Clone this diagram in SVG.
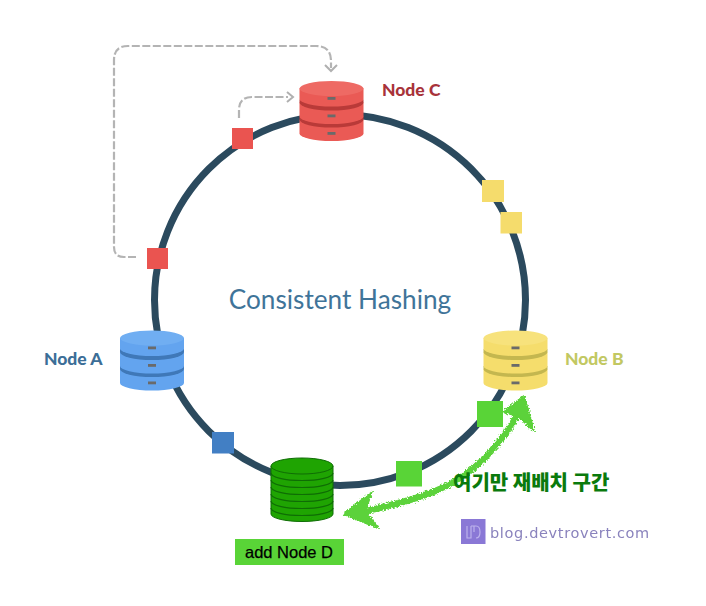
<svg xmlns="http://www.w3.org/2000/svg" width="706" height="606" viewBox="0 0 706 606">
<style>
.lbl{font-family:Lato,"Open Sans","Liberation Sans",sans-serif;font-weight:900;font-size:17.500px}
.dash{fill:none;stroke:#b4b4b4;stroke-width:2.200;stroke-dasharray:8 2.500}
.head{fill:none;stroke:#b0b0b0;stroke-width:2}
.sand{fill:none;stroke:#5cd23a;stroke-linejoin:round;stroke-linecap:round}
.disc{fill:var(--m)}.top{fill:var(--t)}.band{fill:var(--d)}.slot{fill:#6a6a6a}
</style>
<defs>
<filter id="rough" x="-10%" y="-10%" width="120%" height="120%">
<feTurbulence type="fractalNoise" baseFrequency="0.6" numOctaves="2" seed="4"/>
<feDisplacementMap in="SourceGraphic" scale="5" xChannelSelector="R" yChannelSelector="G"/>
</filter>
<filter id="soft"><feGaussianBlur stdDeviation="0.45"/></filter>
<g id="db">
<path class="disc" d="M-32 31V45A32 7.500 0 0 0 32 45V31Z"/>
<path class="band" d="M-32 28V31A32 8 0 0 0 32 31V28Z"/>
<path class="disc" d="M-32 14V28A32 7.500 0 0 0 32 28V14Z"/>
<path class="band" d="M-32 11V14A32 8 0 0 0 32 14V11Z"/>
<path class="disc" d="M-32 0V10.500A32 7.500 0 0 0 32 10.500V0Z"/>
<ellipse class="top" cx="0" cy="0" rx="32" ry="7.500"/>
<rect class="slot" x="-4" y="8.500" width="8" height="2.800"/>
<rect class="slot" x="-4" y="26" width="8" height="2.800"/>
<rect class="slot" x="-4" y="43.500" width="8" height="2.800"/>
</g>
</defs>
<rect width="706" height="606" fill="#fff"/>
<g id="ring"><circle cx="340" cy="300" r="185.500" fill="none" stroke="#2b4a5e" stroke-width="7"/></g>
<text x="340" y="309" text-anchor="middle" font-family="Lato,'Open Sans','Liberation Sans',sans-serif" font-size="26.200" fill="#3f7499">Consistent Hashing</text>
<g id="connectors">
<path class="dash" d="M136 257H124Q114 257 114 247V60Q114 46 128 46H316Q331 46 331 61V68"/>
<path class="head" d="M325 65L331 71L337 65"/>
<path class="dash" d="M239 118V110Q239 97 252 97H288"/>
<path class="head" d="M287 92L293 97L287 102"/>
</g>
<g id="node-c" style="--m:#ea5a55;--t:#ee6a64;--d:#b93a38"><use href="#db" x="331.500" y="88.500"/><text class="lbl" x="382" y="96" fill="#a8333a">Node C</text></g>
<g id="node-a" style="--m:#63a4ef;--t:#70aef2;--d:#3f78b8"><use href="#db" x="152" y="338"/><text class="lbl" x="44" y="365" fill="#3c6e97">Node A</text></g>
<g id="node-b" style="--m:#f5dd6c;--t:#f7e27c;--d:#c4b74f"><use href="#db" x="515.500" y="338"/><text class="lbl" x="565" y="365" fill="#c2c862">Node B</text></g>
<g id="node-d">
<path fill="#1fa402" stroke="#0f6d05" stroke-width="1" d="M271 466V514A31 7.500 0 0 0 333 514V466Z"/>
<ellipse cx="302" cy="466" rx="31" ry="8" fill="#1fa402" stroke="#0f6d05"/>
<path fill="none" stroke="#0f6d05" stroke-width="1.200" d="M271 473A31 7.500 0 0 0 333 473M271 480A31 7.500 0 0 0 333 480M271 487A31 7.500 0 0 0 333 487M271 494A31 7.500 0 0 0 333 494M271 501A31 7.500 0 0 0 333 501M271 508A31 7.500 0 0 0 333 508"/>
<rect x="235" y="539" width="109" height="26" fill="#59d437"/>
<text x="289" y="558" text-anchor="middle" font-family="'Liberation Sans',Arial,sans-serif" font-size="16.500" fill="#000" stroke="#000" stroke-width="0.250">add Node D</text>
</g>
<g id="keys">
<rect x="232" y="128" width="21" height="21" fill="#ea5450"/>
<rect x="147" y="248" width="21" height="21" fill="#ea5450"/>
<rect x="482" y="180" width="22" height="22" fill="#f5dc6c"/>
<rect x="500.500" y="212" width="21.500" height="21.500" fill="#f5dc6c"/>
<rect x="212" y="432" width="22" height="21.500" fill="#427fc4"/>
<rect x="477" y="401" width="26" height="26" fill="#59d437"/>
<rect x="396" y="461" width="26" height="25.500" fill="#59d437"/>
</g>
<g id="range" filter="url(#rough)">
<path class="sand" stroke-width="6.500" d="M362 512C415 500 458 490 492 450C505 435 513 424 519 412"/>
<path d="M344 514L372 492L365 511L378 528Z" fill="#5cd23a" stroke="#5cd23a" stroke-width="2" stroke-linejoin="round"/>
<path d="M524 396L503 412L518 416L534 431Z" fill="#5cd23a" stroke="#5cd23a" stroke-width="2" stroke-linejoin="round"/>
</g>
<text x="453" y="490" font-family="'Noto Sans CJK KR',sans-serif" font-weight="900" font-size="20" fill="#0a7a0c">여기만 재배치 구간</text>
<g id="brand" filter="url(#soft)">
<rect x="461" y="519" width="24.500" height="25" fill="#8a78d6"/>
<path d="M467 526V538H471V526M471 526H476Q480 526 480 532Q480 538 476 538M474 526V532" fill="none" stroke="#bdb3ec" stroke-width="1.200"/>
<text x="490" y="537.500" font-family="'DejaVu Sans',sans-serif" font-size="14.500" letter-spacing="0.650" fill="#8a83bd">blog.devtrovert.com</text>
</g>
</svg>
